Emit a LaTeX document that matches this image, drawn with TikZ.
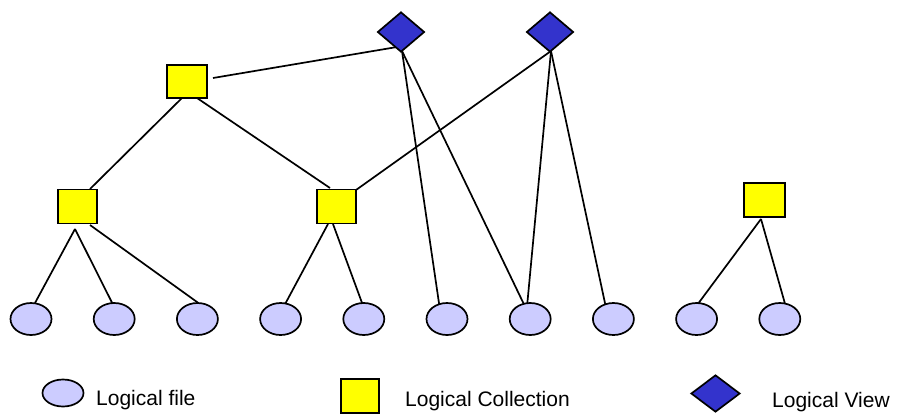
\documentclass[tikz,border=0pt]{standalone}
\usepackage{fontspec}
\setmainfont{Liberation Sans}
\usetikzlibrary{shapes.geometric,calc}
\pgfdeclarelayer{bg}
\pgfsetlayers{bg,main}
\definecolor{viewblue}{HTML}{3333CC}
\definecolor{fileblue}{HTML}{CCCCFF}
\definecolor{collyellow}{HTML}{FFFF00}
\tikzset{
  lview/.style={diamond, draw=black, line width=1.7pt, fill=viewblue, inner sep=0pt, minimum width=47pt, minimum height=40pt},
  lcoll/.style={rectangle, draw=black, line width=1.7pt, fill=collyellow, inner sep=0pt, minimum width=39pt, minimum height=34pt},
  lfile/.style={ellipse, draw=black, line width=1.7pt, fill=fileblue, inner sep=0pt, minimum width=41pt, minimum height=32pt},
  link/.style={draw=black, line width=1.7pt},
  legtext/.style={anchor=base west, inner sep=0pt, font=\fontsize{21}{24}\selectfont}
}
\begin{document}
\begin{tikzpicture}[x=1pt,y=-1pt]
\useasboundingbox (0,0) rectangle (898,413);
% views
\node[lview] (d1) at (401,32) {};
\node[lview] (d2) at (550,32) {};
% collections
\node[lcoll, minimum width=40pt, minimum height=33pt] (s1) at (187,81.5) {};
\node[lcoll] (s2) at (77.5,206.5) {};
\node[lcoll] (s3) at (336.5,206.5) {};
\node[lcoll, minimum width=41pt] (s4) at (764.5,200) {};
% files
\foreach \i/\x in {1/31,2/114.2,3/197.4,4/280.6,5/363.8,6/447,7/530.2,8/613.4,9/696.6,10/779.8}
  \node[lfile] (e\i) at (\x,319) {};
% connectors
\begin{pgfonlayer}{bg}
\draw[link] ($(s1.center)+(26,-3.5)$) -- ($(d1.center)+(-4,15)$);
\draw[link] ($(s1.center)+(-5,16.5)$) -- ($(s2.center)+(12.5,-17.5)$);
\draw[link] ($(s1.center)+(10,16.5)$) -- ($(s3.center)+(-6.5,-18.5)$);
\draw[link] ($(d2.center)+(1,19)$) -- ($(s3.center)+(19.5,-16.5)$);
\draw[link] ($(s2.center)+(-2.5,22.5)$) -- ($(e1.center)+(4,-16)$);
\draw[link] ($(s2.center)+(-2.5,22.5)$) -- ($(e2.center)+(-2,-16)$);
\draw[link] ($(s2.center)+(12.5,18.5)$) -- ($(e3.center)+(1,-16)$);
\draw[link] ($(s3.center)+(-8.5,17.5)$) -- ($(e4.center)+(4,-14)$);
\draw[link] ($(s3.center)+(-3.5,17.5)$) -- ($(e5.center)+(-1,-14)$);
\draw[link] ($(d1.center)+(1,19)$) -- ($(e6.center)+(-7,-9)$);
\draw[link] ($(d1.center)+(1,19)$) -- ($(e7.center)+(-3.5,-9)$);
\draw[link] ($(d2.center)+(1,19)$) -- ($(e7.center)+(-3.5,-9)$);
\draw[link] ($(d2.center)+(1,19)$) -- ($(e8.center)+(-8,-14)$);
\draw[link] ($(s4.center)+(-3.5,19)$) -- ($(e9.center)+(2,-16)$);
\draw[link] ($(s4.center)+(-3.5,19)$) -- ($(e10.center)+(5,-16)$);
\end{pgfonlayer}
% legend
\node[lfile, minimum height=27pt] (le) at (63,393) {};
\node[legtext] (lt1) at (96,405) {Logical file};
\node[lcoll, minimum width=38pt] (lc) at (360,396) {};
\node[legtext] (lt2) at (405,406) {Logical Collection};
\node[lview, minimum width=49pt, minimum height=37pt] (lv) at (715.5,393.5) {};
\node[legtext] (lt3) at (772,407) {Logical View};
\end{tikzpicture}
\end{document}
